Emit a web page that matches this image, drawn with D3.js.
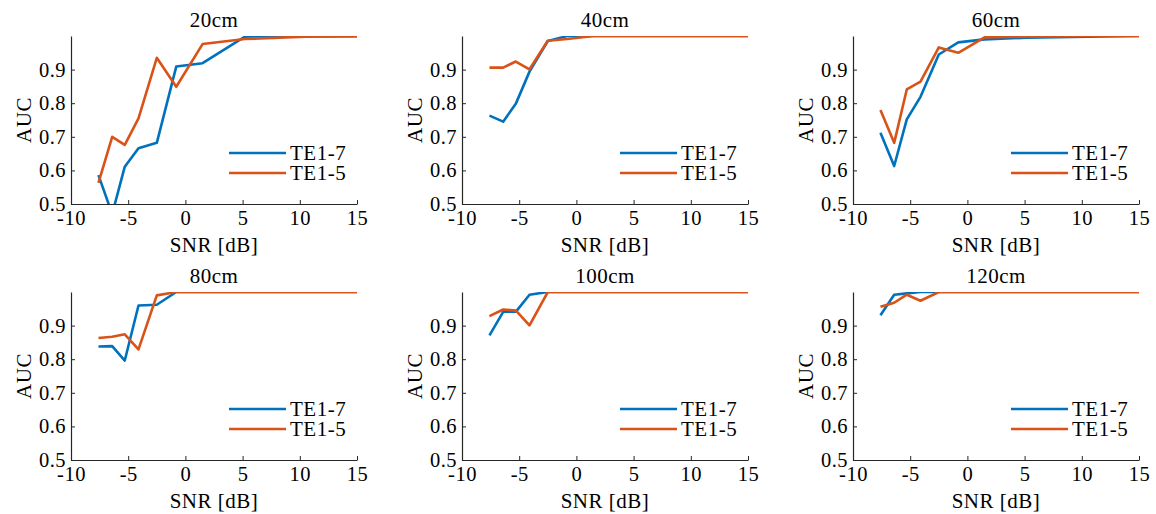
<!DOCTYPE html>
<html>
<head>
<meta charset="utf-8">
<script src="https://cdn.jsdelivr.net/npm/d3@7"></script>
<style>
    body { margin: 0; background: #fff; }
    text { font-family: "Liberation Serif", serif; fill: #000; letter-spacing: 0.5px; }
    .axis path, .axis line { stroke: #262626; }
    .axis text { font-size: 20.5px; font-family: "Liberation Serif", serif; fill: #000; }
</style>
</head>
<body>
<div id="chart"></div>
<script>
// SNR points shared by every panel
const snr = [-7.6, -6.4, -5.3, -4.1, -2.5, -0.8, 1.5, 5.2, 10.5, 15];
const titles = ['20cm', '40cm', '60cm', '80cm', '100cm', '120cm'];
const seriesNames = ['TE1-7', 'TE1-5'];
const xTicks = [-10, -5, 0, 5, 10, 15];
const xTickLabels = ['-10', '-5', '0', '5', '10', '15'];
const yTicks = [0.5, 0.6, 0.7, 0.8, 0.9];

// AUC values, one array per panel and series
const te17_20 = [0.586, 0.47, 0.611, 0.666, 0.682, 0.909, 0.919, 0.998, 1.0, 1.0];
const te15_20 = [0.563, 0.700, 0.676, 0.755, 0.935, 0.849, 0.976, 0.991, 0.998, 0.999];
const te17_40 = [0.763, 0.745, 0.798, 0.894, 0.985, 1.0, 1.0, 1.0, 1.0, 1.0];
const te15_40 = [0.906, 0.906, 0.924, 0.901, 0.986, 0.991, 1.0, 1.0, 1.0, 1.0];
const te17_60 = [0.712, 0.613, 0.752, 0.819, 0.945, 0.981, 0.99, 0.995, 0.998, 1.0];
const te15_60 = [0.780, 0.682, 0.841, 0.864, 0.966, 0.950, 0.996, 0.998, 1.0, 1.0];
const te17_80 = [0.838, 0.839, 0.796, 0.960, 0.962, 1.0, 1.0, 1.0, 1.0, 1.0];
const te15_80 = [0.863, 0.867, 0.874, 0.829, 0.990, 1.0, 1.0, 1.0, 1.0, 1.0];
const te17_100 = [0.871, 0.941, 0.941, 0.992, 1.0, 1.0, 1.0, 1.0, 1.0, 1.0];
const te15_100 = [0.928, 0.948, 0.945, 0.901, 1.0, 1.0, 1.0, 1.0, 1.0, 1.0];
const te17_120 = [0.931, 0.992, 0.996, 1.0, 1.0, 1.0, 1.0, 1.0, 1.0, 1.0];
const te15_120 = [0.956, 0.968, 0.992, 0.974, 1.0, 1.0, 1.0, 1.0, 1.0, 1.0];

const panels = [
    [te17_20, te15_20], [te17_40, te15_40], [te17_60, te15_60],
    [te17_80, te15_80], [te17_100, te15_100], [te17_120, te15_120],
];
const colors = ['#0072BD', '#D95319'];

const W = 1156, H = 514;
const plotW = 286, plotH = 168;
const lefts = [71, 462, 853];
const tops = [36, 292];

const svg = d3.select('#chart').append('svg')
    .attr('width', W)
    .attr('height', H);

const x = d3.scaleLinear().domain([-10, 15]).range([0, plotW]);
const y = d3.scaleLinear().domain([0.5, 1]).range([plotH, 0]);

function drawPanel(i) {
    const g = svg.append('g')
        .attr('transform', `translate(${lefts[i % 3]},${tops[Math.floor(i / 3)]})`);

    // clip so curves dipping under 0.5 are cut at the axis
    g.append('clipPath').attr('id', `clip${i}`)
        .append('rect').attr('width', plotW).attr('height', plotH);

    const line = d3.line()
        .x((d, k) => x(snr[k]))
        .y(d => y(d));

    panels[i].forEach((vals, s) => {
        g.append('path')
            .datum(vals)
            .attr('clip-path', `url(#clip${i})`)
            .attr('fill', 'none')
            .attr('stroke', colors[s])
            .attr('stroke-width', 2.6)
            .attr('stroke-linejoin', 'round')
            .attr('d', line);
    });

    g.append('g')
        .attr('class', 'axis')
        .attr('transform', `translate(0,${plotH})`)
        .call(d3.axisBottom(x).tickValues(xTicks)
            .tickFormat((d, k) => xTickLabels[k])
            .tickSizeInner(-4).tickSizeOuter(0).tickPadding(6));

    g.append('g')
        .attr('class', 'axis')
        .call(d3.axisLeft(y).tickValues(yTicks).tickFormat(d3.format('.1f'))
            .tickSizeInner(-4).tickSizeOuter(0).tickPadding(5));

    g.selectAll('.axis .domain').attr('stroke-width', 1.2);

    // title
    g.append('text')
        .attr('x', plotW / 2)
        .attr('y', -9)
        .attr('text-anchor', 'middle')
        .style('font-size', '21px')
        .text(titles[i]);

    // axis labels
    g.append('text')
        .attr('x', plotW / 2)
        .attr('y', plotH + 48)
        .attr('text-anchor', 'middle')
        .style('font-size', '21px')
        .text('SNR [dB]');

    g.append('text')
        .attr('transform', 'rotate(-90)')
        .attr('x', -plotH / 2)
        .attr('y', -40)
        .attr('text-anchor', 'middle')
        .style('font-size', '21px')
        .text('AUC');

    // legend
    seriesNames.forEach((name, s) => {
        const ly = 117 + s * 20;
        g.append('line')
            .attr('x1', 158).attr('x2', 215)
            .attr('y1', ly).attr('y2', ly)
            .attr('stroke', colors[s])
            .attr('stroke-width', 2.6);
        g.append('text')
            .attr('x', 219)
            .attr('y', ly + 7)
            .style('font-size', '21px')
            .text(name);
    });
}

titles.forEach((t, i) => drawPanel(i));
</script>
</body>
</html>
